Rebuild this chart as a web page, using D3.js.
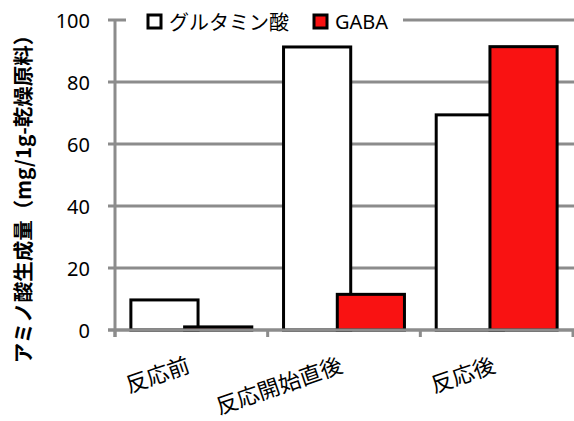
<!DOCTYPE html>
<html>
<head>
<meta charset="utf-8">
<script src="https://cdn.jsdelivr.net/npm/d3@7"></script>
<style>
  html, body { margin: 0; padding: 0; background: #fff; }
  svg { display: block; }
</style>
</head>
<body>
<div id="chart"></div>
<script>
// Amino acid yield per 1 g of dried raw material, by reaction stage
const categories = ["反応前", "反応開始直後", "反応後"];
const seriesNames = ["グルタミン酸", "GABA"];
const glutamate = [9.7, 91.3, 69.4];
const gaba = [1.0, 11.5, 91.4];
const yTicks = [0, 20, 40, 60, 80, 100];
const yTitle = "アミノ酸生成量（mg/1g-乾燥原料）";

const width = 574, height = 421;
const fills = ["#ffffff", "#f91212"];
const gridColor = "#8c8c8c";
const jpFont = "'Noto Sans CJK JP', 'Noto Sans', sans-serif";
const numFont = "'Noto Sans', 'Liberation Sans', sans-serif";

const plot = { left: 115, right: 573, top: 20, bottom: 330 };

const svg = d3.select("#chart").append("svg")
  .attr("width", width).attr("height", height);

const x0 = d3.scaleBand().domain(categories).range([plot.left, plot.right]).padding(0);
const y = d3.scaleLinear().domain([0, 100]).range([plot.bottom, plot.top]);

// Bars overlap slightly within each category
const barW = x0.bandwidth() * 0.44;
const step = barW * 0.8;
const outer = (x0.bandwidth() - (barW + step)) / 2;
const x1 = d3.scaleBand().domain(seriesNames).range([outer, outer + step * 2]).padding(0);

// Horizontal gridlines (with short ticks left of the axis)
svg.append("g").selectAll("line").data(yTicks).join("line")
  .attr("x1", plot.left - 7).attr("x2", width)
  .attr("y1", d => y(d)).attr("y2", d => y(d))
  .attr("stroke", gridColor).attr("stroke-width", 3);

// Vertical axis line
svg.append("line")
  .attr("x1", plot.left).attr("x2", plot.left)
  .attr("y1", y(100)).attr("y2", y(0) + 7)
  .attr("stroke", gridColor).attr("stroke-width", 3);

// Category tick marks below the baseline
const bounds = categories.map(c => x0(c)).concat([plot.right]);
svg.append("g").selectAll("line").data(bounds).join("line")
  .attr("x1", d => d).attr("x2", d => d)
  .attr("y1", y(0)).attr("y2", y(0) + 7)
  .attr("stroke", gridColor).attr("stroke-width", 3);

// Y tick labels
svg.append("g").selectAll("text").data(yTicks).join("text")
  .attr("x", 90).attr("y", d => y(d))
  .attr("text-anchor", "end").attr("dominant-baseline", "central")
  .attr("font-family", numFont).attr("font-size", 20).attr("fill", "#000")
  .text(d => d);

// Bars
const seriesData = [glutamate, gaba];
seriesNames.forEach((name, si) => {
  svg.append("g").selectAll("rect").data(categories).join("rect")
    .attr("x", c => x0(c) + x1(name))
    .attr("width", barW)
    .attr("y", (c, i) => y(seriesData[si][i]))
    .attr("height", (c, i) => y(0) - y(seriesData[si][i]))
    .attr("fill", fills[si])
    .attr("stroke", "#000").attr("stroke-width", 3);
});

// Redraw baseline on top of bar bottoms
svg.append("line")
  .attr("x1", plot.left - 7).attr("x2", width)
  .attr("y1", y(0)).attr("y2", y(0))
  .attr("stroke", gridColor).attr("stroke-width", 3);

// Category labels, rotated
svg.append("g").selectAll("text").data(categories).join("text")
  .attr("transform", c => `translate(${x0(c) + x0.bandwidth() / 2 - 6},${y(0) + 24}) rotate(-19)`)
  .attr("text-anchor", "end").attr("dy", "0.85em")
  .attr("font-family", jpFont).attr("font-size", 22).attr("fill", "#000")
  .text(c => c);

// Y axis title
svg.append("text")
  .attr("transform", `translate(22,194) rotate(-90)`)
  .attr("text-anchor", "middle").attr("dominant-baseline", "central")
  .attr("font-family", jpFont).attr("font-size", 20.5).attr("font-weight", "bold")
  .attr("fill", "#000")
  .text(yTitle);

// Legend
const legend = svg.append("g");
legend.append("rect")
  .attr("x", 126).attr("y", 5).attr("width", 277).attr("height", 32)
  .attr("fill", "#fff");
const legendX = [148, 314];
seriesNames.forEach((name, i) => {
  legend.append("rect")
    .attr("x", legendX[i]).attr("y", 15).attr("width", 13).attr("height", 13)
    .attr("fill", fills[i]).attr("stroke", "#000").attr("stroke-width", 3);
  legend.append("text")
    .attr("x", legendX[i] + 21).attr("y", 21)
    .attr("dominant-baseline", "central")
    .attr("font-family", i === 0 ? jpFont : numFont)
    .attr("font-size", 20).attr("fill", "#000")
    .text(name);
});
</script>
</body>
</html>
